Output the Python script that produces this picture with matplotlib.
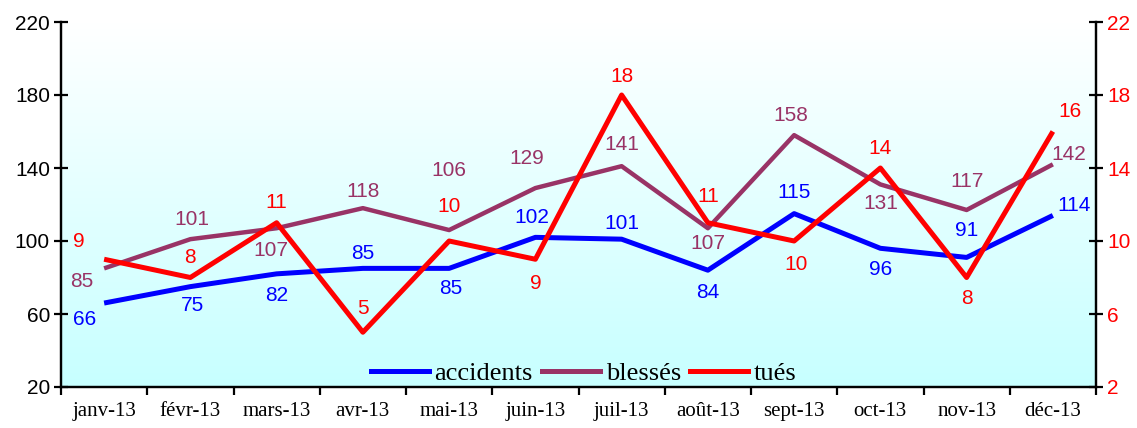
import matplotlib
matplotlib.use('Agg')
import matplotlib.pyplot as plt
import numpy as np
from matplotlib.lines import Line2D

months = ['janv-13', 'févr-13', 'mars-13', 'avr-13', 'mai-13', 'juin-13',
          'juil-13', 'août-13', 'sept-13', 'oct-13', 'nov-13', 'déc-13']
accidents = [66, 75, 82, 85, 85, 102, 101, 84, 115, 96, 91, 114]
blesses = [85, 101, 107, 118, 106, 129, 141, 107, 158, 131, 117, 142]
tues = [9, 8, 11, 5, 10, 9, 18, 11, 10, 14, 8, 16]

# label offsets (pixels, dx right / dy down) picked by eye
off_acc = [(-20, 16), (2, 19), (0, 22), (0, -15), (2, 20), (-4, -20),
           (0, -16), (0, 22), (0, -21), (0, 21), (0, -27), (21, -10)]
off_bl = [(-22, 13), (2, -20), (-6, 22), (0, -17), (0, -60), (-9, -30),
          (0, -22), (0, 15), (-3, -20), (0, 19), (0, -28), (16, -10)]
off_tu = [(-25, -18), (0, -20), (0, -20), (0, -24), (0, -34), (0, 24),
          (0, -18), (0, -26), (2, 24), (0, -20), (0, 21), (17, -20)]

C_ACC = '#0000FF'
C_BL = '#993366'
C_TU = '#FF0000'
SANS = 'Liberation Sans'
SERIF = 'Liberation Serif'

fig = plt.figure(figsize=(11.37, 4.28), dpi=100)
ax = fig.add_axes([61 / 1137, 41 / 428, 1035 / 1137, 365 / 428])

# background gradient white -> light cyan
grad = np.linspace(0, 1, 256)[:, None]
top = np.array([1.0, 1.0, 1.0])
bot = np.array([0.78, 1.0, 1.0])
img = top[None, None, :] * (1 - grad[..., None]) + bot[None, None, :] * grad[..., None]
ax.imshow(img, extent=[0, 1, 0, 1], transform=ax.transAxes, aspect='auto',
          zorder=0, origin='upper')

x = np.arange(len(months))
ax.plot(x, accidents, color=C_ACC, lw=3.6, zorder=3, solid_capstyle='butt')
ax.plot(x, blesses, color=C_BL, lw=3.2, zorder=3, solid_capstyle='butt')
ax.set_xlim(-0.5, 11.5)
ax.set_ylim(20, 220)
ax.set_yticks([20, 60, 100, 140, 180, 220])

ax2 = ax.twinx()
ax2.plot(x, tues, color=C_TU, lw=3.6, zorder=3, solid_capstyle='butt')
ax2.set_ylim(2, 22)
ax2.set_yticks([2, 6, 10, 14, 18, 22])

for a in (ax, ax2):
    a.spines['top'].set_visible(False)
    for s in ('left', 'right', 'bottom'):
        a.spines[s].set_linewidth(1.6)

ax.set_xticks(np.arange(-0.5, 12, 1))
ax.set_xticklabels([])
ax.set_xticks(x, minor=True)
ax.set_xticklabels(months, minor=True, fontfamily=SERIF, fontsize=15)
ax.tick_params(axis='x', which='major', direction='out', length=6, width=1.6)
ax.tick_params(axis='x', which='minor', length=0, pad=11)
ax.tick_params(axis='y', direction='inout', length=10, width=1.6, labelsize=15, pad=3)
ax2.tick_params(axis='y', direction='inout', length=10, width=1.6, labelsize=15,
                labelcolor=C_TU, pad=3)
for lab in ax.get_yticklabels() + ax2.get_yticklabels():
    lab.set_fontfamily(SANS)

def label_series(axis, vals, offs, color):
    for i, (v, (dx, dy)) in enumerate(zip(vals, offs)):
        axis.annotate(str(v), (i, v), xytext=(dx, -dy), textcoords='offset pixels',
                      ha='center', va='center', color=color, fontsize=15,
                      fontfamily=SANS, annotation_clip=False, zorder=5)

label_series(ax, accidents, off_acc, C_ACC)
label_series(ax, blesses, off_bl, C_BL)
label_series(ax2, tues, off_tu, C_TU)

handles = [Line2D([], [], color=C_ACC, lw=3.6),
           Line2D([], [], color=C_BL, lw=3.6),
           Line2D([], [], color=C_TU, lw=3.6)]
leg = ax2.legend(handles, ['accidents', 'blessés', 'tués'], loc='lower center',
                 bbox_to_anchor=(0.505, -0.03), ncol=3, frameon=False,
                 prop={'family': SERIF, 'size': 19}, handlelength=2.2,
                 handletextpad=0.2, columnspacing=0.35, borderpad=0)

fig.savefig('out.png', dpi=100)
